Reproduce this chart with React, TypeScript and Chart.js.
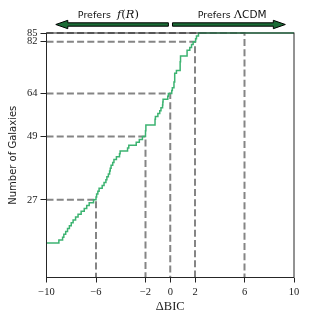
import React, { useEffect, useRef } from "react";
import { Chart, registerables } from "chart.js";
Chart.register(...registerables);

// ΔBIC value where the cumulative count steps up, and the new count
const stepX = [-10, -9.0, -8.7, -8.6, -8.45, -8.3, -8.15, -8.0, -7.85, -7.65, -7.45, -7.2, -6.95, -6.75, -6.55, -6.2, -6.0, -5.95, -5.85, -5.75, -5.5, -5.35, -5.2, -5.12, -5.0, -4.9, -4.85, -4.78, -4.65, -4.55, -4.35, -4.1, -4.05, -3.45, -3.35, -2.75, -2.5, -2.25, -2.0, -1.97, -1.23, -1.2, -1.0, -0.85, -0.75, -0.62, -0.6, -0.58, -0.2, -0.15, 0.12, 0.17, 0.3, 0.36, 0.5, 0.8, 0.83, 1.36, 1.58, 1.72, 1.85, 2.05, 2.12, 2.28, 10];
const stepCount = [12, 13, 14, 15, 16, 17, 18, 19, 20, 21, 22, 23, 24, 25, 26, 27, 28, 29, 30, 31, 32, 33, 34, 35, 36, 37, 38, 39, 40, 41, 42, 43, 44, 45, 46, 47, 48, 49, 51, 53, 55, 56, 57, 58, 59, 60, 61, 62, 63, 64, 65, 66, 68, 71, 72, 75, 77, 79, 80, 81, 82, 83, 84, 85, 85];

const thresholdX = [-6, -2, 0, 2, 6];
const thresholdCount = [27, 49, 64, 82, 85];

const xTicks = [-10, -6, -2, 0, 2, 6, 10];
const yTicks = [27, 49, 64, 82, 85];

const X_MIN = -10;
const X_MAX = 10;
const Y_MIN = 0;
const Y_MAX = 85;

const fmt = (v: number) => (v < 0 ? "\u2212" + Math.abs(v) : String(v));

const framePlugin = {
  id: "frame",
  afterDraw(chart: any) {
    const { ctx, chartArea: a, scales } = chart;
    ctx.save();
    ctx.strokeStyle = "#262626";
    ctx.lineWidth = 1;
    ctx.strokeRect(a.left, a.top, a.right - a.left, a.bottom - a.top);

    // direction arrows above plot
    const xs = scales.x;
    const cy = 24.5;
    const drawArrow = (tail: number, tip: number) => {
      const dir = Math.sign(tip - tail);
      const hl = 12, hw = 4.2, bw = 1.7;
      const base = tip - dir * hl;
      ctx.beginPath();
      ctx.moveTo(tail, cy - bw);
      ctx.lineTo(base, cy - bw);
      ctx.lineTo(base, cy - hw);
      ctx.lineTo(tip, cy);
      ctx.lineTo(base, cy + hw);
      ctx.lineTo(base, cy + bw);
      ctx.lineTo(tail, cy + bw);
      ctx.closePath();
      ctx.fillStyle = "#1b6b36";
      ctx.fill();
      ctx.strokeStyle = "#000";
      ctx.lineWidth = 1;
      ctx.stroke();
    };
    drawArrow(xs.getPixelForValue(-0.15), xs.getPixelForValue(-9.25));
    drawArrow(xs.getPixelForValue(0.18), xs.getPixelForValue(9.3));

    const drawParts = (parts: [string, string][], cx: number, by: number) => {
      let total = 0;
      const ws = parts.map(([t, f]) => {
        ctx.font = f;
        const w = ctx.measureText(t).width;
        total += w;
        return w;
      });
      let x = cx - total / 2;
      ctx.fillStyle = "#111";
      ctx.textBaseline = "alphabetic";
      ctx.textAlign = "left";
      parts.forEach(([t, f], i) => {
        ctx.font = f;
        ctx.fillText(t, x, by);
        x += ws[i];
      });
    };
    const sans = "9.5px 'DejaVu Sans'";
    const ital = "italic 11.5px 'DejaVu Serif'";
    const rom = "11.5px 'DejaVu Serif'";
    drawParts(
      [["Prefers  ", sans], ["f", ital], ["(", rom], ["R", ital], [")", rom]],
      xs.getPixelForValue(-5),
      18
    );
    drawParts(
      [["Prefers ", sans], ["\u039B", "11.5px 'DejaVu Serif'"], ["CDM", "10.5px 'DejaVu Sans'"]],
      xs.getPixelForValue(5),
      18
    );
    ctx.restore();
  },
};

export default function App() {
  const ref = useRef<HTMLCanvasElement>(null);
  useEffect(() => {
    if (!ref.current) return;
    const stepData = stepX.map((x, i) => ({ x, y: stepCount[i] }));
    const guides = thresholdX.map((t, i) => ({
      data: [
        { x: X_MIN, y: thresholdCount[i] },
        { x: t, y: thresholdCount[i] },
        { x: t, y: Y_MIN },
      ],
      borderColor: "rgba(120,120,120,0.9)",
      borderWidth: 2,
      borderDash: [7, 3.2],
      pointRadius: 0,
      fill: false,
      tension: 0,
      clip: false as any,
      order: 2,
    }));
    const chart = new Chart(ref.current, {
      type: "line",
      data: {
        datasets: [
          {
            data: stepData,
            stepped: true,
            borderColor: "#3cb371",
            borderWidth: 1.5,
            pointRadius: 0,
            fill: false,
            clip: false as any,
            order: 1,
          },
          ...guides,
        ] as any,
      },
      options: {
        animation: false,
        responsive: false,
        devicePixelRatio: 1,
        layout: { padding: { top: 33, right: 17, left: 0, bottom: 0 } },
        plugins: { legend: { display: false }, tooltip: { enabled: false } },
        scales: {
          x: {
            type: "linear",
            min: X_MIN,
            max: X_MAX,
            afterBuildTicks: (s: any) => {
              s.ticks = xTicks.map((v) => ({ value: v }));
            },
            afterFit: (s: any) => {
              s.height = 45.5;
            },
            border: { display: false },
            grid: { drawOnChartArea: false, drawTicks: true, tickLength: 5, tickColor: "#222", tickWidth: 1 },
            ticks: {
              autoSkip: false,
              maxRotation: 0,
              padding: 3,
              color: "#222",
              font: { family: "'Liberation Serif'", size: 10.5 },
              callback: (v: any) => fmt(Number(v)),
            },
            title: {
              display: true,
              text: "\u0394BIC",
              color: "#222",
              font: { family: "'Liberation Serif'", size: 12.5 },
              padding: { top: 0, bottom: 9 },
            },
          },
          y: {
            type: "linear",
            min: Y_MIN,
            max: Y_MAX,
            afterBuildTicks: (s: any) => {
              s.ticks = yTicks.map((v) => ({ value: v }));
            },
            afterFit: (s: any) => {
              s.width = 46.5;
            },
            border: { display: false },
            grid: { drawOnChartArea: false, drawTicks: true, tickLength: 6, tickColor: "#222", tickWidth: 1 },
            ticks: {
              autoSkip: false,
              padding: 3,
              color: "#222",
              font: { family: "'Liberation Serif'", size: 10.5 },
              callback: (v: any) => fmt(Number(v)),
            },
            title: {
              display: true,
              text: "Number of Galaxies",
              color: "#222",
              font: { family: "'DejaVu Sans'", size: 10 },
              padding: { top: 7, bottom: 0 },
            },
          },
        },
      },
      plugins: [framePlugin],
    });
    return () => chart.destroy();
  }, []);
  return (
    <div style={{ position: "fixed", left: 0, top: 0, width: 311, height: 323, background: "#fff" }}>
      <canvas ref={ref} width={311} height={323} style={{ width: 311, height: 323, display: "block" }} />
    </div>
  );
}
